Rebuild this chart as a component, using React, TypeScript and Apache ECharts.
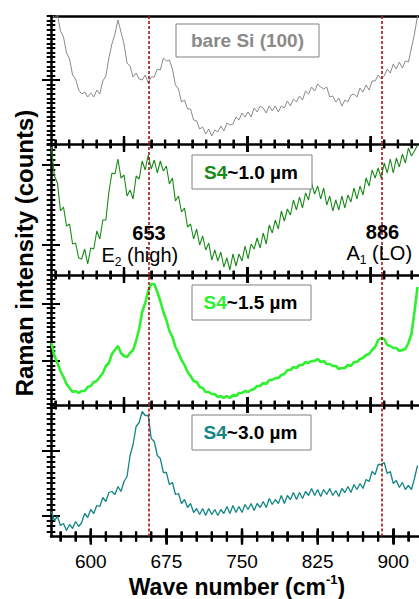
import React, { useEffect, useRef } from "react";
import * as echarts from "echarts";

// Wavenumber sampling (cm^-1)
const waveStart = 561;
const waveStep = 3;
const xMin = 560.6;
const xMax = 925.5;

// Raman intensities (arbitrary units)
const bareSi = [
  131, 126, 129, 113, 107, 91, 85, 69, 65, 54,
  50, 52, 47, 51, 47, 54, 50, 63, 68, 86,
  100, 110, 124, 112, 100, 81, 78, 67, 71, 65,
  64, 69, 61, 67, 67, 75, 74, 86, 83, 84,
  75, 59, 55, 42, 44, 35, 35, 24, 23, 15,
  17, 10, 15, 8, 14, 12, 18, 13, 21, 19,
  20, 27, 24, 31, 27, 32, 27, 36, 32, 38,
  36, 31, 38, 33, 38, 32, 38, 36, 43, 38,
  45, 42, 48, 44, 53, 50, 57, 53, 60, 57,
  55, 57, 47, 48, 42, 46, 38, 44, 42, 49,
  50, 47, 56, 52, 59, 54, 63, 63, 69, 65,
  68, 75, 71, 80, 75, 82, 76, 83, 82, 96,
  110, 128,
];

const s4_10 = [
  128, 99, 92, 64, 68, 49, 51, 31, 32, 17,
  16, 26, 11, 27, 26, 44, 36, 55, 55, 83,
  102, 101, 116, 97, 100, 79, 85, 76, 99, 96,
  114, 105, 120, 106, 115, 102, 114, 104, 109, 91,
  97, 74, 79, 63, 67, 48, 51, 36, 46, 30,
  39, 25, 32, 15, 25, 14, 23, 8, 17, 5,
  21, 9, 21, 14, 29, 16, 31, 26, 37, 27,
  42, 31, 50, 42, 55, 46, 64, 54, 66, 60,
  75, 65, 78, 67, 82, 75, 92, 81, 89, 76,
  87, 70, 79, 64, 75, 65, 79, 67, 80, 73,
  87, 76, 89, 80, 97, 89, 105, 97, 107, 97,
  112, 102, 116, 102, 117, 108, 121, 112, 127, 119,
  124, 130,
];

const s4_15 = [
  62, 49, 42, 34, 28, 21, 17, 13, 14, 12,
  14, 14, 18, 19, 23, 24, 28, 32, 39, 42,
  51, 55, 59, 52, 49, 48, 52, 55, 64, 76,
  93, 102, 114, 121, 121, 113, 104, 93, 85, 74,
  68, 58, 52, 45, 40, 33, 29, 24, 23, 18,
  17, 13, 13, 11, 11, 8, 9, 7, 9, 7,
  10, 9, 12, 12, 14, 13, 15, 16, 19, 19,
  22, 21, 25, 25, 27, 27, 30, 31, 35, 35,
  38, 37, 40, 40, 43, 42, 44, 44, 46, 43,
  44, 41, 41, 39, 39, 36, 37, 37, 40, 39,
  43, 43, 46, 47, 50, 51, 55, 58, 65, 67,
  66, 60, 59, 57, 57, 54, 55, 56, 62, 71,
  93, 118,
];

const s4_30 = [
  25, 16, 20, 11, 13, 6, 12, 8, 15, 10,
  14, 23, 19, 27, 23, 31, 30, 39, 35, 44,
  45, 42, 50, 45, 55, 60, 81, 92, 110, 114,
  125, 121, 121, 98, 95, 81, 78, 64, 64, 52,
  54, 42, 43, 33, 37, 29, 33, 24, 28, 22,
  28, 21, 28, 22, 27, 21, 27, 23, 30, 23,
  31, 24, 30, 24, 32, 27, 33, 26, 33, 29,
  35, 29, 38, 32, 37, 33, 41, 33, 41, 37,
  44, 37, 44, 38, 45, 41, 48, 41, 47, 40,
  47, 42, 48, 41, 46, 40, 48, 44, 50, 44,
  52, 47, 53, 48, 57, 55, 65, 62, 72, 72,
  74, 63, 65, 53, 56, 49, 54, 47, 51, 47,
  58, 71,
];

const xTickValues = [600, 675, 750, 825, 900];
const peakLabels = ["653", "886"];
const peakModes = ["E", "A"];
const peakModeSubs = ["2", "1"];
const peakModeNames = [" (high)", " (LO)"];
const peakLinePositions = [658, 888.5];
const sampleNames = ["bare Si (100)", "S4", "S4", "S4"];
const sampleThickness = ["", "~1.0 µm", "~1.5 µm", "~3.0 µm"];

const FONT = "'Liberation Sans', Arial, Helvetica, sans-serif";

function range(start: number, end: number, step: number) {
  const out: number[] = [];
  for (let v = start; v <= end + 1e-6; v += step) out.push(+v.toFixed(3));
  return out;
}

export default function App() {
  const ref = useRef<HTMLDivElement>(null);

  useEffect(() => {
    const chart = echarts.init(ref.current!, null, { renderer: "svg" });

    const panels = [
      { top: 16, height: 128, values: bareSi, color: "#8a8a8a", lw: 1, yMajor: [64], ySpacing: 128 / 28, yStart: 0 },
      { top: 144, height: 131, values: s4_10, color: "#178a17", lw: 1.1, yMajor: [21, 101], ySpacing: 5, yStart: 1 },
      { top: 275, height: 130, values: s4_15, color: "#2ef02e", lw: 2.6, yMajor: [28.3, 85.7], ySpacing: 4.78, yStart: 4.4 },
      { top: 405, height: 131.5, values: s4_30, color: "#128585", lw: 1.3, yMajor: [46, 110.3], ySpacing: 5.36, yStart: 3.1 },
    ];

    const upperMajor = range(633, 900, 122.2);
    const upperMinor = range(633 - 5 * 13.58, 924, 13.58);
    const bottomMinor = range(570, 924, 15);

    const grid: any[] = [];
    const xAxis: any[] = [];
    const yAxis: any[] = [];
    const series: any[] = [];

    const tickStyle = { color: "#000", width: 2 };
    const tickY = (gi: number, h: number, values: number[], half: number) => ({
      type: "value", gridIndex: gi, min: 0, max: h, inverse: true, position: "left", offset: -half,
      axisLine: { show: false, onZero: false }, axisLabel: { show: false }, splitLine: { show: false },
      axisTick: { show: true, length: 2 * half, customValues: values, lineStyle: tickStyle },
    });
    // x tick axis: bottom axis moved up into the panel by "half", ticks pointing down across the edge
    const tickX = (gi: number, values: number[], half: number) => ({
      type: "value", gridIndex: gi, min: xMin, max: xMax, position: "bottom", offset: -half,
      axisLine: { show: false, onZero: false }, axisLabel: { show: false }, splitLine: { show: false },
      axisTick: { show: true, length: 2 * half, customValues: values, lineStyle: tickStyle },
    });

    panels.forEach((p, i) => {
      grid.push({ left: 51, right: 0, top: p.top, height: p.height });
      const isLast = i === panels.length - 1;
      const xMainIdx = xAxis.length;
      xAxis.push({
        type: "value", gridIndex: i, min: xMin, max: xMax, position: "bottom",
        axisLine: { show: true, onZero: false, lineStyle: { color: "#000", width: 2.5 } },
        axisTick: { show: false }, splitLine: { show: false },
        axisLabel: isLast
          ? { show: true, customValues: xTickValues, margin: 15, fontSize: 19, color: "#000", fontFamily: FONT }
          : { show: false },
      });
      if (i === 0) {
        xAxis.push({
          type: "value", gridIndex: i, min: xMin, max: xMax, position: "top",
          axisLine: { show: true, onZero: false, lineStyle: { color: "#000", width: 2.5 } },
          axisTick: { show: false }, axisLabel: { show: false }, splitLine: { show: false },
        });
      }
      const majors = isLast ? xTickValues : upperMajor;
      const minors = isLast ? bottomMinor : upperMinor;
      xAxis.push(tickX(i, majors, 8));
      xAxis.push(tickX(i, minors, isLast ? 5 : 4.3));

      const yMainIdx = yAxis.length;
      yAxis.push({
        type: "value", gridIndex: i, min: 0, max: p.height, position: "left",
        axisLine: { show: true, onZero: false, lineStyle: { color: "#000", width: 2.5 } },
        axisTick: { show: false }, axisLabel: { show: false }, splitLine: { show: false },
      });
      yAxis.push(tickY(i, p.height, p.yMajor, 9));
      yAxis.push(tickY(i, p.height, range(p.yStart, p.height, p.ySpacing), 4.3));

      series.push({
        type: "line",
        xAxisIndex: xMainIdx,
        yAxisIndex: yMainIdx,
        data: p.values.map((v, k) => [waveStart + k * waveStep, v]),
        showSymbol: false,
        symbol: "none",
        lineStyle: { color: p.color, width: p.lw },
        clip: true,
        markLine: {
          silent: true,
          symbol: ["none", "none"],
          label: { show: false },
          lineStyle: { color: "#a31616", type: [3, 2], width: 1.6 },
          data: peakLinePositions.map((v) => ({ xAxis: v })),
        },
      });

      // same ticks again as marks on the x scale (guarantees they show across the panel edge)
      [
        { vals: majors, len: 16 },
        { vals: minors, len: isLast ? 10 : 8.6 },
      ].forEach((t) => {
        series.push({
          type: "scatter",
          xAxisIndex: xMainIdx,
          yAxisIndex: yMainIdx,
          silent: true,
          clip: false,
          z: 10,
          symbol: "rect",
          symbolSize: [2.4, t.len],
          itemStyle: { color: "#000", opacity: 1, borderWidth: 0 },
          data: t.vals.map((v) => [v, 0]),
        });
      });
    });

    const boxes = [
      { x: 176, y: 24, w: 143, h: 33 },
      { x: 192, y: 155, w: 120, h: 34 },
      { x: 192, y: 285, w: 119, h: 35 },
      { x: 192, y: 415, w: 119, h: 35 },
    ];

    const graphic: any[] = [];
    boxes.forEach((b, i) => {
      graphic.push({
        type: "rect", z: 100,
        shape: { x: b.x, y: b.y, width: b.w, height: b.h },
        style: { fill: "#fff", stroke: "#808080", lineWidth: 1 },
      });
      const text = i === 0 ? `{g|${sampleNames[0]}}` : `{c|${sampleNames[i]}}{k|${sampleThickness[i]}}`;
      graphic.push({
        type: "text", z: 101,
        x: b.x + b.w / 2 + (i === 0 ? 0 : -1), y: b.y + b.h / 2,
        style: {
          text,
          align: "center", verticalAlign: "middle",
          textAlign: "center", textVerticalAlign: "middle",
          rich: {
            g: { fill: "#8a8a8a", fontSize: 19, fontWeight: "bold", fontFamily: FONT },
            c: { fill: panels[i].color, fontSize: 19, fontWeight: "bold", fontFamily: FONT },
            k: { fill: "#000", fontSize: 19, fontWeight: "bold", fontFamily: FONT },
          },
        },
      });
    });

    const peakLabelPos = [
      { nx: 149, ny: 233, mx: 101.5, my: 255 },
      { nx: 382.5, ny: 232, mx: 346.5, my: 253 },
    ];
    peakLabelPos.forEach((pp, i) => {
      graphic.push({
        type: "text", z: 101, x: pp.nx, y: pp.ny,
        style: {
          text: peakLabels[i], fill: "#000",
          font: `bold 20px ${FONT}`,
          align: "center", verticalAlign: "middle", textAlign: "center", textVerticalAlign: "middle",
        },
      });
      graphic.push({
        type: "text", z: 101, x: pp.mx, y: pp.my,
        style: {
          text: `{m|${peakModes[i]}}{s|${peakModeSubs[i]}}{m|${peakModeNames[i]}}`,
          align: "left", verticalAlign: "middle", textAlign: "left", textVerticalAlign: "middle",
          rich: {
            m: { fill: "#000", fontSize: 20, fontFamily: FONT, lineHeight: 26, verticalAlign: "middle" },
            s: { fill: "#000", fontSize: 12, fontFamily: FONT, lineHeight: 26, verticalAlign: "bottom", padding: [0, 0, 0, 0] },
          },
        },
      });
    });

    graphic.push({
      type: "text", x: 24, y: 253, rotation: Math.PI / 2,
      style: {
        text: "Raman intensity (counts)", fill: "#000",
        font: `bold 24px ${FONT}`,
        align: "center", verticalAlign: "middle", textAlign: "center", textVerticalAlign: "middle",
      },
    });
    graphic.push({
      type: "text", x: 237, y: 587,
      style: {
        text: "{a|Wave number (cm}{b|-1}{a|)}",
        align: "center", verticalAlign: "middle", textAlign: "center", textVerticalAlign: "middle",
        rich: {
          a: { fill: "#000", fontSize: 23, fontWeight: "bold", fontFamily: FONT, lineHeight: 28, verticalAlign: "middle" },
          b: { fill: "#000", fontSize: 13, fontWeight: "bold", fontFamily: FONT, lineHeight: 28, verticalAlign: "top" },
        },
      },
    });

    chart.setOption({
      animation: false,
      backgroundColor: "#fff",
      grid,
      xAxis,
      yAxis,
      series,
      graphic,
    });

    return () => chart.dispose();
  }, []);

  return (
    <div
      ref={ref}
      style={{ position: "fixed", left: 0, top: 0, width: 419, height: 599, background: "#fff" }}
    />
  );
}
